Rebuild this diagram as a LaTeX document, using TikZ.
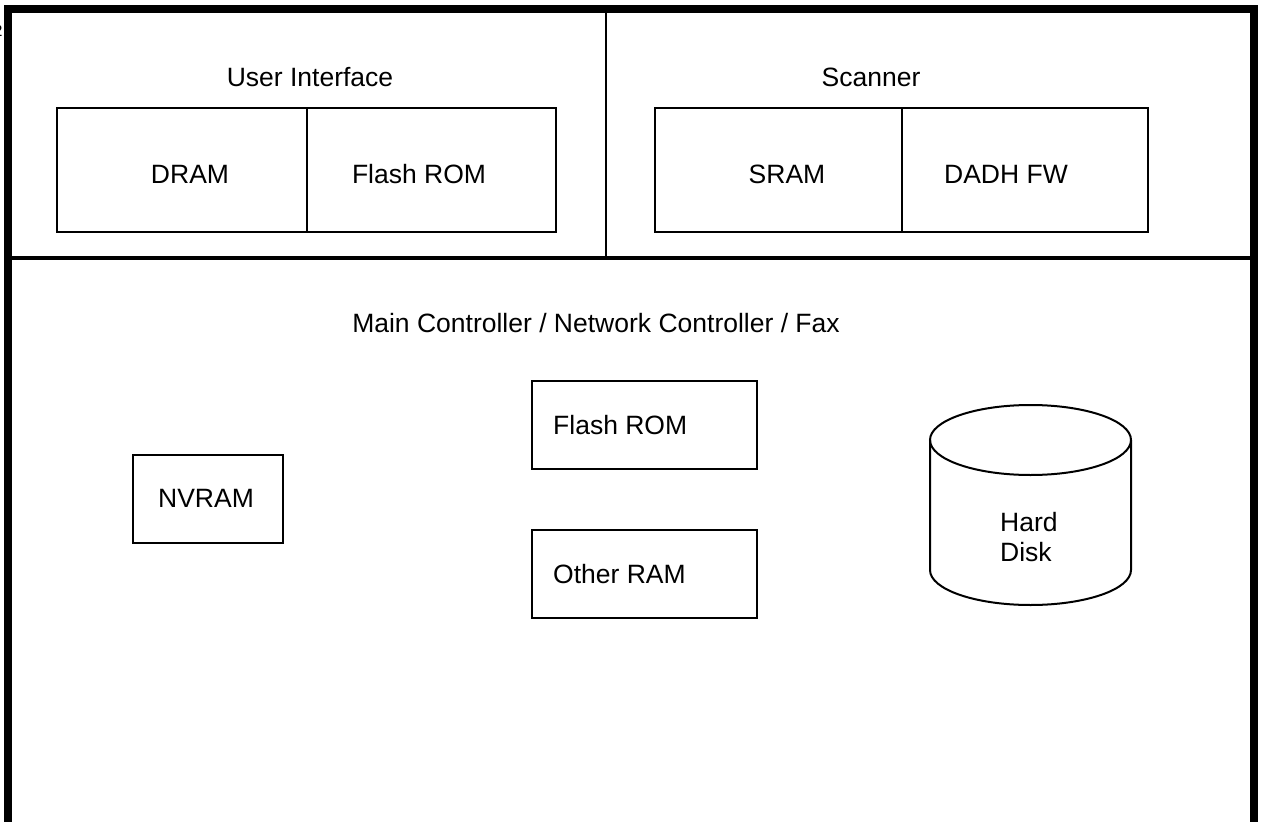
\documentclass[tikz,border=0pt]{standalone}
\usepackage{fontspec}
\setmainfont{Liberation Sans}

\begin{document}
\begin{tikzpicture}[x=1pt, y=-1pt, every node/.style={font=\fontsize{26.5}{30}\selectfont, inner sep=0pt},
    box/.style={draw, line width=2pt}]
                \useasboundingbox (0,0) rectangle (1262,822);
                \fill[white] (0,0) rectangle (1262,822);

                \coordinate (TL) at (8,9);
                \coordinate (TR) at (1254,9);
                \coordinate (BL) at (8,840);
                \coordinate (BR) at (1254,840);
                \coordinate (ML) at (8,258);
                \coordinate (MR) at (1254,258);
                \coordinate (SplitT) at (606,9);
                \coordinate (SplitB) at (606,258);

                \draw[line width=8pt] (BL) -- (TL) -- (TR) -- (BR);
                \draw[line width=4.5pt] (ML) -- (MR);
                \draw[line width=2pt] (SplitT) -- (SplitB);

                \node[anchor=base, font=\fontsize{16}{18}\selectfont] (cut) at (-2,36) {2};

                \node[anchor=base] (ui) at (310,86) {User Interface};
                \node[box, minimum width=250, minimum height=124] (dram) at (182,170) {};
                \node[box, minimum width=249, minimum height=124] (uiflash) at (431.5,170) {};
                \node[anchor=base] (dramtxt) at (190,183) {DRAM};
                \node[anchor=base] (uiflashtxt) at (419,183) {Flash ROM};

                \node[anchor=base] (scan) at (871,86) {Scanner};
                \node[box, minimum width=247, minimum height=124] (sram) at (778.5,170) {};
                \node[box, minimum width=246, minimum height=124] (dadh) at (1025,170) {};
                \node[anchor=base] (sramtxt) at (787,183) {SRAM};
                \node[anchor=base] (dadhtxt) at (1006,183) {DADH FW};

                \node[anchor=base] (main) at (596,332) {Main Controller / Network Controller / Fax};

                \node[box, minimum width=150, minimum height=88] (nvram) at (208,499) {};
                \node[anchor=base] (nvramtxt) at (206,507) {NVRAM};

                \node[box, minimum width=225, minimum height=88] (flash) at (644,424.5) {};
                \node[anchor=base west] (flashtxt) at (553,434) {Flash ROM};
                \node[box, minimum width=225, minimum height=88] (oram) at (644,573.5) {};
                \node[anchor=base west] (oramtxt) at (553,583) {Other RAM};

                \draw[box] (930,440) -- (930,570) arc[start angle=180, end angle=0, x radius=100.5, y radius=35] -- (1131,440);
                \draw[box] (1030.5,440) ellipse[x radius=100.5, y radius=35];
                \node[anchor=base west, align=left] (disk) at (1000,561) {Hard\\Disk};
\end{tikzpicture}
\end{document}
